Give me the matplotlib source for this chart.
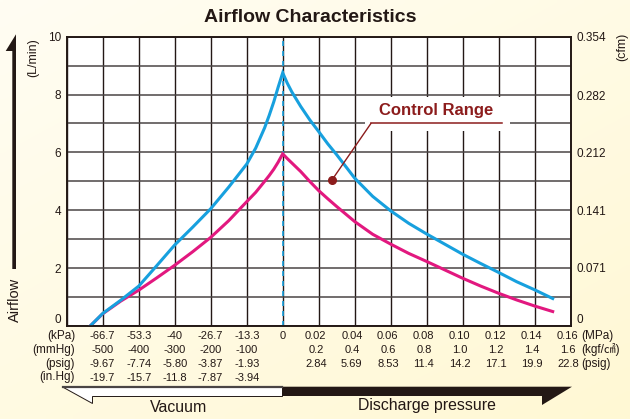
import numpy as np
import matplotlib.pyplot as plt
from matplotlib.patches import Polygon, Rectangle
import matplotlib.transforms as mtransforms

plt.rcParams['font.family'] = ['Liberation Sans', 'Noto Sans CJK JP', 'DejaVu Sans']

# --- data ---
# vacuum side (kPa) and discharge side (MPa), airflow in L/min
vac_kpa = [-71.3, -66.7, -60.0, -53.3, -46.7, -40.0, -33.3, -26.7, -20.0, -13.3,
           -10.0, -6.7, -5.0, -3.3, -1.7, 0.0]
blue_vac = [0.0, 0.43, 0.89, 1.38, 2.08, 2.80, 3.42, 4.05, 4.80, 5.60,
            6.15, 6.85, 7.28, 7.75, 8.25, 8.75]
mag_vac = [0.0, 0.42, 0.86, 1.24, 1.66, 2.10, 2.57, 3.06, 3.64, 4.30,
           4.62, 5.00, 5.20, 5.42, 5.66, 5.95]

dis_mpa = [0.0, 0.0025, 0.005, 0.01, 0.015, 0.02, 0.025, 0.03, 0.04, 0.05, 0.06,
           0.07, 0.08, 0.09, 0.10, 0.11, 0.12, 0.13, 0.14, 0.15]
blue_dis = [8.75, 8.40, 8.10, 7.59, 7.13, 6.72, 6.30, 5.92, 5.11, 4.48, 3.98,
            3.55, 3.18, 2.83, 2.48, 2.16, 1.85, 1.53, 1.25, 0.95]
mag_dis = [5.95, 5.79, 5.64, 5.34, 5.00, 4.68, 4.40, 4.13, 3.61, 3.17, 2.83,
           2.51, 2.23, 1.94, 1.65, 1.38, 1.13, 0.90, 0.69, 0.50]

# axis labels
kpa_ticks = [-66.7, -53.3, -40, -26.7, -13.3, 0]
kpa_labels = ['-66.7', '-53.3', '-40', '-26.7', '-13.3', '0']
mmhg_labels = ['-500', '-400', '-300', '-200', '-100']
psig_vac_labels = ['-9.67', '-7.74', '-5.80', '-3.87', '-1.93']
inhg_labels = ['-19.7', '-15.7', '-11.8', '-7.87', '-3.94']
mpa_ticks = [0.02, 0.04, 0.06, 0.08, 0.10, 0.12, 0.14, 0.16]
mpa_labels = ['0.02', '0.04', '0.06', '0.08', '0.10', '0.12', '0.14', '0.16']
kgf_labels = ['0.2', '0.4', '0.6', '0.8', '1.0', '1.2', '1.4', '1.6']
psig_dis_labels = ['2.84', '5.69', '8.53', '11.4', '14.2', '17.1', '19.9', '22.8']
lmin_ticks = [0, 2, 4, 6, 8, 10]
cfm_ticks = [0, 0.071, 0.141, 0.212, 0.282, 0.354]
cfm_labels = ['0', '0.071', '0.141', '0.212', '0.282', '0.354']

KPA_PER_DIV = 80 / 6
MPA_PER_DIV = 0.02
DARK = '#231815'
BLUE = '#17a0de'
MAGENTA = '#e2187f'
RED = '#8c1c1c'


def vac_pos(v):
    return np.asarray(v, dtype=float) / KPA_PER_DIV


def dis_pos(v):
    return np.asarray(v, dtype=float) / MPA_PER_DIV


W, H = 630, 419
fig = plt.figure(figsize=(W / 100, H / 100), dpi=100)

# cream background
bg = fig.add_axes([0, 0, 1, 1], zorder=-10)
yy, xx = np.mgrid[0:1:60j, 0:1:90j]
f = np.clip(0.55 * yy + 0.45 * xx, 0, 1)
c0 = np.array([255, 253, 243]) / 255
c1 = np.array([255, 248, 212]) / 255
img = c0[None, None, :] * (1 - f[..., None]) + c1[None, None, :] * f[..., None]
bg.imshow(img, aspect='auto', extent=[0, 1, 0, 1], interpolation='bilinear')
bg.axis('off')

# main axes
ax = fig.add_axes([66.7 / W, 1 - 326 / H, 504 / W, 289.3 / H])
ax.set_facecolor('white')
ax.set_xlim(-6, 8)
ax.set_ylim(0, 10)
ax.set_xticks(range(-6, 9))
ax.set_yticks(lmin_ticks)
ax.set_yticks(range(1, 10, 2), minor=True)
ax.grid(True, axis='x', color=DARK, lw=1.0, zorder=0)
ax.grid(True, axis='y', which='both', color='#4a4545', lw=1.1, zorder=0)
ax.tick_params(which='both', length=0, labelbottom=False, labelsize=8.5,
               labelcolor=DARK, pad=4)
for s in ax.spines.values():
    s.set_color(DARK)
    s.set_linewidth(1.2)
ax.get_yticklabels()[0].set_va('bottom')

ax.axvline(0, color=BLUE, lw=1.2, ls=(0, (3, 3)), zorder=2)

x_blue = np.concatenate([vac_pos(vac_kpa), dis_pos(dis_mpa[1:])])
y_blue = np.concatenate([blue_vac, blue_dis[1:]])
x_mag = np.concatenate([vac_pos(vac_kpa), dis_pos(dis_mpa[1:])])
y_mag = np.concatenate([mag_vac, mag_dis[1:]])
ax.plot(x_mag, y_mag, color=MAGENTA, lw=2.2, zorder=4, solid_joinstyle='miter')
ax.plot(x_blue, y_blue, color=BLUE, lw=2.2, zorder=5, solid_joinstyle='miter')

# control range callout
ax.add_patch(Rectangle((2.29, 6.74), 4.02, 1.18, facecolor='white',
                       edgecolor='none', zorder=2.5))
ax.text(4.26, 7.45, 'Control Range', ha='center', va='center', fontsize=12,
        fontweight='bold', color=RED, zorder=6)
ax.plot([2.45, 6.09], [7.0, 7.0], color=RED, lw=1.1, zorder=6)
ax.plot([1.37, 2.45], [5.05, 7.0], color=RED, lw=1.0, zorder=6)
ax.plot(1.37, 5.05, 'o', color=RED, ms=5.5, zorder=6)

# right axis (cfm)
ax2 = ax.twinx()
ax2.set_ylim(0, 0.354)
ax2.set_yticks(cfm_ticks, labels=cfm_labels)
ax2.tick_params(length=0, labelsize=8.5, labelcolor=DARK, pad=4)
for s in ax2.spines.values():
    s.set_color(DARK)
    s.set_linewidth(1.2)
ax2.get_yticklabels()[0].set_va('bottom')

# multi-row x tick labels
trans = mtransforms.blended_transform_factory(ax.transData, ax.transAxes)
row_off = [-7.3, -17.1, -27.2, -37.2]


def put_row(xs, labels, row):
    for xv, lab in zip(xs, labels):
        ax.annotate(lab, (xv, 0), xycoords=trans, xytext=(0, row_off[row]),
                    textcoords='offset points', ha='center', va='center',
                    fontsize=8, color=DARK, annotation_clip=False)


put_row(vac_pos(kpa_ticks), kpa_labels, 0)
put_row(vac_pos(kpa_ticks[:-1]), mmhg_labels, 1)
put_row(vac_pos(kpa_ticks[:-1]), psig_vac_labels, 2)
put_row(vac_pos(kpa_ticks[:-1]), inhg_labels, 3)
put_row(dis_pos(mpa_ticks) - 0.08, mpa_labels, 0)
put_row(dis_pos(mpa_ticks) - 0.08, kgf_labels, 1)
put_row(dis_pos(mpa_ticks) - 0.08, psig_dis_labels, 2)

# overlay in pixel coords for labels and arrows
ov = fig.add_axes([0, 0, 1, 1], zorder=10)
ov.set_xlim(0, W)
ov.set_ylim(H, 0)
ov.axis('off')
ov.patch.set_alpha(0)

ov.text(310, 18, 'Airflow Characteristics', ha='center', va='center',
        fontsize=14, fontweight='bold', color=DARK)

for i, u in enumerate(['(kPa)', '(mmHg)', '(psig)', '(in.Hg)']):
    ov.text(75, 335.7 + i * 13.9, u, ha='right', va='center', fontsize=8.5, color=DARK)
for i, u in enumerate(['(MPa)', '(kgf/㎠)', '(psig)']):
    ov.text(581, 335.7 + i * 13.9, u, ha='left', va='center', fontsize=8.5, color=DARK)

ov.text(33, 58, '(L/min)', rotation=90, ha='center', va='center', fontsize=9, color=DARK)
ov.text(622, 47, '(cfm)', rotation=90, ha='center', va='center', fontsize=9, color=DARK)
ov.text(15, 300, 'Airflow', rotation=90, ha='center', va='center', fontsize=10.5, color=DARK)

# vertical airflow arrow
ov.add_patch(Polygon([(12.3, 269), (12.3, 51), (5.7, 51), (16, 34.3), (16, 269)],
                     closed=True, facecolor=DARK, edgecolor='none'))

# bottom vacuum / discharge arrows
ov.add_patch(Polygon([(63, 386.7), (282, 386.7), (282, 396), (92, 396), (92, 403.3)],
                     closed=True, facecolor='white', edgecolor=DARK, lw=0.7))
ov.plot([63, 282], [386.9, 386.9], color='#4a4545', lw=1.6)
ov.add_patch(Polygon([(282, 386.7), (572, 386.7), (542, 405), (542, 396), (282, 396)],
                     closed=True, facecolor=DARK, edgecolor='none'))
ov.text(179, 407, 'Vacuum', ha='center', va='center', fontsize=11.4, color=DARK)
ov.text(427, 405, 'Discharge pressure', ha='center', va='center', fontsize=11.4, color=DARK)

fig.savefig('out.png', dpi=100)
